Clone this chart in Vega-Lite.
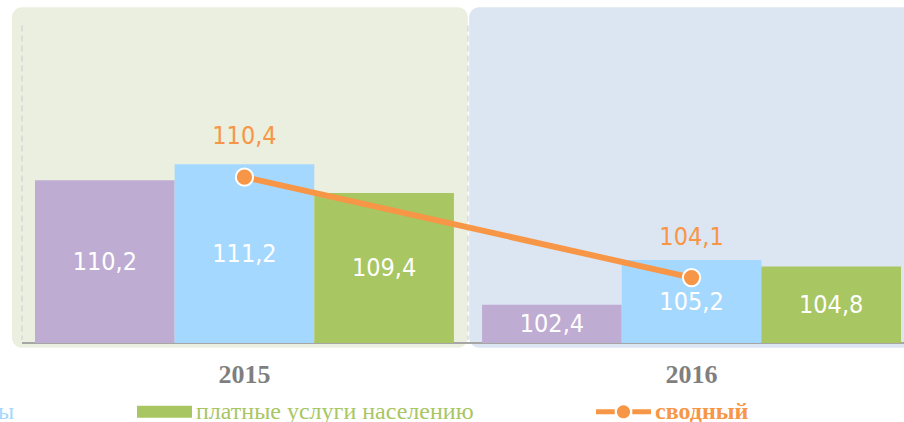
{
  "$schema": "https://vega.github.io/schema/vega-lite/v6.json",
  "width": 904,
  "height": 335,
  "autosize": {"type": "none"},
  "padding": {"top": 8, "left": 0, "right": 0, "bottom": 79},
  "datasets": {
    "panels": [{"year": "2015"}, {"year": "2016"}],
    "bars": [
      {"year": "2015", "series": "продовольственные товары", "value": 110.2},
      {"year": "2015", "series": "непродовольственные товары", "value": 111.2},
      {"year": "2015", "series": "платные услуги населению", "value": 109.4},
      {"year": "2016", "series": "продовольственные товары", "value": 102.4},
      {"year": "2016", "series": "непродовольственные товары", "value": 105.2},
      {"year": "2016", "series": "платные услуги населению", "value": 104.8}
    ],
    "line": [
      {"year": "2015", "series": "сводный", "value": 110.4},
      {"year": "2016", "series": "сводный", "value": 104.1}
    ]
  },
  "layer": [
    {
      "data": {"name": "panels"},
      "mark": {"type": "rect", "cornerRadius": 10},
      "encoding": {
        "x": {"field": "year", "type": "nominal", "scale": {"type": "band", "domain": ["2015", "2016"], "range": [12, 925], "paddingInner": 0.003, "paddingOuter": 0}, "axis": null},
        "y": {"datum": 121.05, "type": "quantitative", "scale": {"domain": [100, 121], "nice": false, "zero": false}, "axis": null},
        "y2": {"datum": 99.7},
        "fill": {"field": "year", "type": "nominal", "scale": {"domain": ["2015", "2016"], "range": ["#EBEFDF", "#DCE6F2"]}, "legend": null}
      }
    },
    {
      "data": {"name": "panels"},
      "mark": {"type": "rule", "strokeDash": [6, 4], "color": "#C6CDD4", "strokeWidth": 1},
      "encoding": {
        "x": {"field": "year", "type": "nominal", "bandPosition": 0, "scale": {"type": "band", "domain": ["2015", "2016"], "range": [22, 914], "paddingInner": 0, "paddingOuter": 0}, "axis": null},
        "y": {"datum": 119.9, "type": "quantitative", "scale": {"domain": [100, 121], "nice": false, "zero": false}, "axis": null},
        "y2": {"datum": 100.2}
      }
    },
    {
      "data": {"values": [{}]},
      "mark": {"type": "rule", "color": "#A6A6A6", "strokeWidth": 2},
      "encoding": {
        "x": {"datum": "2015", "type": "nominal", "bandPosition": 0, "scale": {"type": "band", "domain": ["2015", "2016"], "range": [22, 1806], "paddingInner": 0, "paddingOuter": 0}, "axis": null},
        "x2": {"datum": "2016"},
        "y": {"datum": 100, "type": "quantitative", "scale": {"domain": [100, 121], "nice": false, "zero": false}, "axis": null}
      }
    },
    {
      "data": {"name": "bars"},
      "mark": {"type": "bar"},
      "encoding": {
        "x": {"field": "year", "type": "nominal", "scale": {"type": "band", "domain": ["2015", "2016"], "range": [35, 901], "paddingInner": 0.063, "paddingOuter": 0},
          "axis": {"title": null, "domain": false, "ticks": false, "labelAngle": 0, "labelFont": "Liberation Serif", "labelFontSize": 26, "labelFontWeight": "bold", "labelColor": "#7F7F7F", "labelPadding": 18}},
        "xOffset": {"field": "series", "type": "nominal", "scale": {"domain": ["продовольственные товары", "непродовольственные товары", "платные услуги населению"], "paddingInner": 0, "paddingOuter": 0}},
        "y": {"field": "value", "type": "quantitative", "scale": {"domain": [100, 121], "nice": false, "zero": false}, "axis": null},
        "y2": {"datum": 100},
        "color": {"field": "series", "type": "nominal",
          "scale": {"domain": ["продовольственные товары", "непродовольственные товары", "платные услуги населению", "сводный"], "range": ["#BFACD2", "#A5D8FE", "#A8C662", "#F79646"]},
          "legend": {
            "orient": "none", "legendX": -809, "legendY": 376, "direction": "horizontal", "title": null,
            "columnPadding": 122, "labelFont": "Liberation Serif", "labelFontSize": 24, "labelOffset": 4, "labelLimit": 500,
            "symbolSize": 3025, "symbolStrokeWidth": 0,
            "encode": {
              "symbols": {"update": {
                "shape": {"signal": "datum.value === 'сводный' ? 'M-1,-0.09H-0.32V0.09H-1Z M0.32,-0.09H1V0.09H0.32Z M-0.24,0A0.24,0.24 0 1,0 0.24,0A0.24,0.24 0 1,0 -0.24,0Z' : 'M-1,-0.22H1V0.22H-1Z'"},
                "fill": {"scale": "color", "field": "value"},
                "stroke": {"value": "transparent"},
                "size": {"value": 3025},
                "opacity": {"value": 1}
              }},
              "labels": {"update": {
                "fill": {"scale": "color", "field": "value"},
                "fontWeight": {"signal": "datum.value === 'сводный' ? 'bold' : 'normal'"}
              }}
            }
          }
        }
      }
    },
    {
      "data": {"name": "bars"},
      "mark": {"type": "text", "fill": "#FFFFFF", "font": "DejaVu Sans Condensed", "fontSize": 25, "fontWeight": 300, "baseline": "middle", "align": "center"},
      "encoding": {
        "x": {"field": "year", "type": "nominal", "scale": {"type": "band", "domain": ["2015", "2016"], "range": [35, 901], "paddingInner": 0.063, "paddingOuter": 0}, "axis": null},
        "xOffset": {"field": "series", "type": "nominal"},
        "y": {"field": "value", "type": "quantitative", "scale": {"domain": [100, 142], "nice": false, "zero": false}, "axis": null},
        "text": {"field": "value", "type": "quantitative", "format": ".1f"}
      }
    },
    {
      "data": {"name": "line"},
      "mark": {"type": "line", "strokeWidth": 6},
      "encoding": {
        "x": {"field": "year", "type": "nominal", "scale": {"type": "band", "domain": ["2015", "2016"], "range": [35, 901], "paddingInner": 0.063, "paddingOuter": 0}, "axis": null},
        "y": {"field": "value", "type": "quantitative", "scale": {"domain": [100, 121], "nice": false, "zero": false}, "axis": null},
        "color": {"field": "series", "type": "nominal"}
      }
    },
    {
      "data": {"name": "line"},
      "mark": {"type": "point", "filled": true, "size": 300, "stroke": "#FFFFFF", "strokeWidth": 2, "opacity": 1},
      "encoding": {
        "x": {"field": "year", "type": "nominal", "scale": {"type": "band", "domain": ["2015", "2016"], "range": [35, 901], "paddingInner": 0.063, "paddingOuter": 0}, "axis": null},
        "y": {"field": "value", "type": "quantitative", "scale": {"domain": [100, 121], "nice": false, "zero": false}, "axis": null},
        "color": {"field": "series", "type": "nominal"}
      }
    },
    {
      "data": {"name": "line"},
      "mark": {"type": "text", "fill": "#F79646", "font": "DejaVu Sans Condensed", "fontSize": 25, "fontWeight": 300, "baseline": "middle", "align": "center", "dy": -41},
      "encoding": {
        "x": {"field": "year", "type": "nominal", "scale": {"type": "band", "domain": ["2015", "2016"], "range": [35, 901], "paddingInner": 0.063, "paddingOuter": 0}, "axis": null},
        "y": {"field": "value", "type": "quantitative", "scale": {"domain": [100, 121], "nice": false, "zero": false}, "axis": null},
        "text": {"field": "value", "type": "quantitative", "format": ".1f"}
      }
    }
  ],
  "resolve": {"scale": {"x": "independent", "y": "independent"}},
  "config": {
    "view": {"stroke": null},
    "locale": {"number": {"decimal": ",", "thousands": " ", "grouping": [3], "currency": ["", ""]}}
  }
}
